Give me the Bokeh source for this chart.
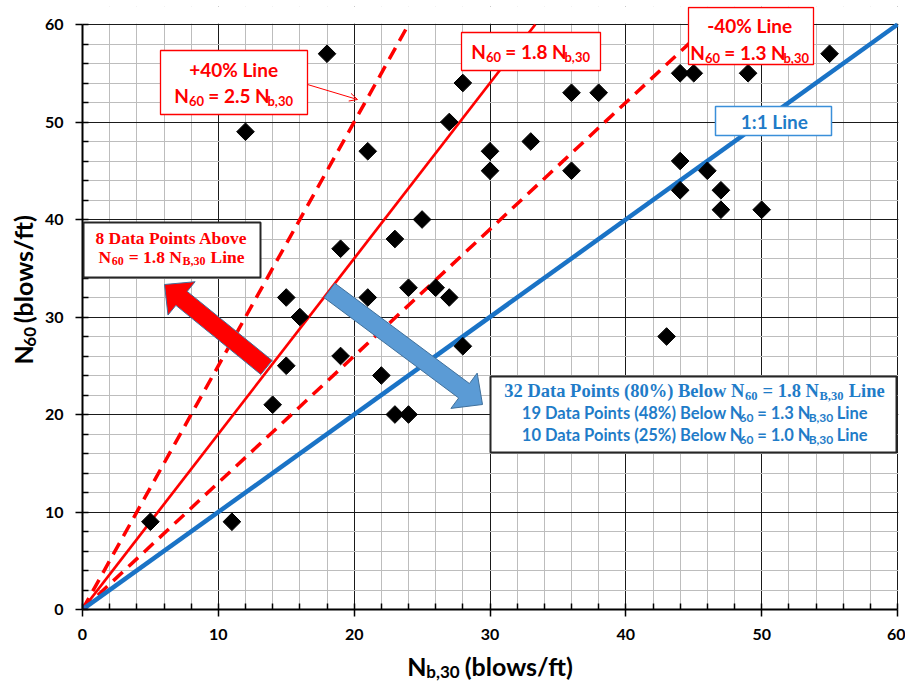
import math
from bokeh.plotting import figure
from bokeh.layouts import row, column
from bokeh.models import (Label, BoxAnnotation, Arrow, OpenHead,
                          SingleIntervalTicker, Range1d, ColumnDataSource)
from bokeh.embed import file_html
from bokeh.resources import INLINE

# ---------------- data ----------------
nb30 = [5, 11, 12, 14, 15, 15, 16, 18, 19, 19, 21, 21, 22, 23, 23, 24, 24, 25, 26, 27,
        27, 28, 28, 30, 30, 33, 36, 36, 38, 43, 44, 44, 44, 45, 46, 47, 47, 49, 50, 55]
n60 = [9, 9, 49, 21, 32, 25, 30, 57, 37, 26, 47, 32, 24, 38, 20, 20, 33, 40, 33, 32,
       50, 54, 27, 47, 45, 48, 53, 45, 53, 28, 55, 46, 43, 55, 45, 43, 41, 55, 41, 57]
ratio_one = 1.0
ratio_mid = 1.8
ratio_plus40 = 2.5
ratio_minus40 = 1.3
axis_max = 60

# ---------------- page geometry ----------------
PAGE_W, PAGE_H = 905, 683
LEFT_W = 40          # width of the y-title strip
MAIN_H = 648         # height of the main figure
FL, FR, FT, FB = 82, 897, 24, 609   # plot frame (page px) for 0..60
TOP_EXTRA = 18       # frame extends this many px above the 60 line


def dx(px):
    return (px - FL) * axis_max / (FR - FL)


def dy(py):
    return (FB - py) * axis_max / (FB - FT)


def ident(v):
    return v


LATO = {' ': .193, '(': .32, ')': .32, '%': .78, '+': .58, '=': .58, '-': .37, ',': .22,
        '.': .22, ':': .25, '/': .38, 'A': .686, 'B': .647, 'D': .74, 'L': .509, 'N': .739,
        'P': .612, 'a': .502, 'b': .564, 'e': .527, 'i': .245, 'l': .245, 'n': .562,
        'o': .565, 's': .431, 't': .378, 'w': .808, 'v': .529, 'f': .35}
TIMES = {' ': .25, '(': .333, ')': .333, '%': 1.0, ',': .25, '.': .25, '=': .57,
         'A': .722, 'B': .667, 'D': .722, 'L': .667, 'N': .722, 'P': .611, 'a': .5,
         'b': .556, 'e': .444, 'i': .278, 'l': .278, 'n': .556, 'o': .5, 's': .389,
         't': .333, 'w': .722, 'v': .5}
FONT_NAME = {"Lato": "Lato", "Times": "Liberation Serif"}
MID = {"Lato": 0.38, "Times": 0.34}   # baseline -> middle distance (em)


def tw(t, size, font):
    tab = LATO if font == "Lato" else TIMES
    tot = 0.0
    for ch in t:
        if ch.isdigit():
            tot += .58 if font == "Lato" else .5
        else:
            tot += tab.get(ch, .55)
    return tot * size


def rich(fig, pieces, ax, ay, font, color, mx=dx, my=dy, rotated=False, gap=0.6):
    """ax/ay: centre x and baseline y (page px); rotated: ax is baseline x, ay centre y."""
    widths = [tw(t, s, font) + gap for t, s, _ in pieces]
    total = sum(widths) - gap
    pos = -total / 2
    for (t, s, sh), w in zip(pieces, widths):
        lead = len(t) - len(t.lstrip(" "))
        off = pos + tw(" " * lead, s, font)
        mid = MID[font] * s
        if rotated:
            px, py, ang = ax + sh - mid, ay - off, math.pi / 2
        else:
            px, py, ang = ax + off, ay + sh - mid, 0.0
        fig.add_layout(Label(x=mx(px), y=my(py), text=t.strip(" "), text_font=FONT_NAME[font],
                             text_font_size=f"{s}px", text_font_style="bold",
                             text_color=color, text_align="left",
                             text_baseline="middle", angle=ang))
        pos += w


def box(fig, l, t, r, b, color, lw):
    fig.add_layout(BoxAnnotation(left=dx(l), right=dx(r), top=dy(t), bottom=dy(b),
                                 fill_color="white", fill_alpha=1.0,
                                 line_color=color, line_width=lw, line_alpha=1.0))


def block_arrow(tail, tip, sw, hw, hl):
    (x0, y0), (x1, y1) = tail, tip
    L = math.hypot(x1 - x0, y1 - y0)
    ux, uy = (x1 - x0) / L, (y1 - y0) / L
    nx, ny = -uy, ux
    bx, by = x1 - ux * hl, y1 - uy * hl
    pts = [(x0 + nx * sw / 2, y0 + ny * sw / 2), (bx + nx * sw / 2, by + ny * sw / 2),
           (bx + nx * hw / 2, by + ny * hw / 2), (x1, y1),
           (bx - nx * hw / 2, by - ny * hw / 2), (bx - nx * sw / 2, by - ny * sw / 2),
           (x0 - nx * sw / 2, y0 - ny * sw / 2)]
    return [dx(a) for a, _ in pts], [dy(b) for _, b in pts]


def blank_fig(w, h, xr, yr):
    f = figure(width=w, height=h, x_range=xr, y_range=yr, x_axis_type=None,
               y_axis_type=None, output_backend="svg", toolbar_location=None,
               min_border=0, outline_line_color=None)
    f.background_fill_color = "white"
    f.border_fill_color = "white"
    return f


# ---------------- main figure ----------------
ticker_x = SingleIntervalTicker(interval=10, num_minor_ticks=5)
ticker_y = SingleIntervalTicker(interval=10, num_minor_ticks=5)

x_end = axis_max + 1 * axis_max / (FR - FL)
y_end = axis_max + TOP_EXTRA * axis_max / (FB - FT)
main_w = PAGE_W - LEFT_W
p = figure(width=main_w, height=MAIN_H, x_range=Range1d(0, x_end), y_range=Range1d(0, y_end),
           output_backend="svg", toolbar_location=None,
           min_border_left=FL - LEFT_W, min_border_right=main_w - (FR + 1 - LEFT_W),
           min_border_top=FT - TOP_EXTRA, min_border_bottom=MAIN_H - FB)
p.background_fill_color = "white"
p.border_fill_color = "white"
p.outline_line_color = None

for ax_, tk in ((p.xaxis, ticker_x), (p.yaxis, ticker_y)):
    ax_.ticker = tk
    ax_.bounds = (0, axis_max)
    ax_.axis_line_color = "black"
    ax_.axis_line_width = 2
    ax_.major_tick_line_color = "black"
    ax_.major_tick_line_width = 1.5
    ax_.minor_tick_line_color = "black"
    ax_.minor_tick_line_width = 1.5
    ax_.major_tick_out = 7
    ax_.major_tick_in = 0
    ax_.minor_tick_in = 6
    ax_.minor_tick_out = 0
    ax_.major_label_text_font = "Lato"
    ax_.major_label_text_font_style = "bold"
    ax_.major_label_text_font_size = "16px"
    ax_.major_label_text_color = "black"
p.xaxis.major_label_standoff = 12
p.yaxis.major_label_standoff = 12

p.xgrid.ticker = ticker_x
p.ygrid.ticker = ticker_y
for g in (p.xgrid, p.ygrid):
    g.grid_line_color = "#1a1a1a"
    g.grid_line_width = 1
    g.minor_grid_line_color = "#bdbdbd"
    g.minor_grid_line_width = 1

# white strip above the 60 line (hides grid there)
p.add_layout(BoxAnnotation(bottom=axis_max + 0.07, fill_color="white", fill_alpha=1.0,
                           line_color=None, level="underlay"))

# reference lines
p.line([0, axis_max / ratio_plus40], [0, axis_max], line_color="#ff0000",
       line_width=3.5, line_dash="13 8")
p.line([0, axis_max / ratio_minus40], [0, axis_max], line_color="#ff0000",
       line_width=3.5, line_dash="13 8")
p.line([0, axis_max / ratio_mid], [0, axis_max], line_color="#ff0000", line_width=2.7)
p.line([0, axis_max / ratio_one], [0, axis_max], line_color="#1a73c6", line_width=4.5)
p.scatter([0], [0], marker="circle", size=8, color="#4472c4")

# block arrows
rx, ry = block_arrow((266, 367), (164, 284), 18, 43, 22)
p.patch(rx, ry, fill_color="#ff0000", line_color="#41719c", line_width=1)
bx_, by_ = block_arrow((329, 290), (482, 404), 18, 44, 23)
p.patch(bx_, by_, fill_color="#5b9bd5", line_color="#41719c", line_width=1)

# data points
src = ColumnDataSource(dict(x=nb30, y=n60))
p.scatter("x", "y", source=src, marker="square", size=12.5, angle=math.pi / 4,
          fill_color="black", line_color="black")

# thin arrow from +40% box
p.add_layout(Arrow(end=OpenHead(size=8, line_color="#ff0000", line_width=1),
                   x_start=dx(307), y_start=dy(84), x_end=dx(357), y_end=dy(99),
                   line_color="#ff0000", line_width=1))

RED = "#ff0000"
BLUE = "#1f7cc8"

# boxes
box(p, 160, 50, 307, 114, RED, 1.3)
box(p, 461, 32, 600, 70, RED, 1.3)
box(p, 688, 7, 813, 64, RED, 1.3)
box(p, 715, 106, 831, 135, "#3a8fd9", 1.5)
box(p, 83, 222, 260, 277, "#262626", 2)
box(p, 490, 376, 896, 452, "#262626", 2)

# box texts (centre x, baseline y)
rich(p, [("+40% Line", 19, 0)], 232, 76, "Lato", RED)
rich(p, [("N", 19, 0), ("60", 13, 3), (" = 2.5 N", 19, 0), ("b,30", 13, 3)], 233, 102, "Lato", RED)
rich(p, [("N", 19, 0), ("60", 13, 3), (" = 1.8 N", 19, 0), ("b,30", 13, 3)], 530, 58, "Lato", RED)
rich(p, [("-40% Line", 19, 0)], 748, 32, "Lato", RED)
rich(p, [("N", 19, 0), ("60", 13, 3), (" = 1.3 N", 19, 0), ("b,30", 13, 3)], 749, 59, "Lato", RED)
rich(p, [("1:1 Line", 19, 0)], 773, 128, "Lato", BLUE)

rich(p, [("8 Data Points Above", 17.5, 0)], 171, 243, "Times", RED)
rich(p, [("N", 17.5, 0), ("60", 12, 3), (" = 1.8 N", 17.5, 0), ("B,30", 12, 3),
         (" Line", 17.5, 0)], 171, 262, "Times", RED)

rich(p, [("32 Data Points (80%) Below N", 18.5, 0), ("60", 12.5, 3), (" = 1.8 N", 18.5, 0),
         ("B,30", 12.5, 3), (" Line", 18.5, 0)], 694, 397, "Times", BLUE)
rich(p, [("19 Data Points (48%) Below N", 16.5, 0), ("60", 12, 3), (" = 1.3 N", 16.5, 0),
         ("B,30", 12, 3), (" Line", 16.5, 0)], 694, 419, "Lato", BLUE)
rich(p, [("10 Data Points (25%) Below N", 16.5, 0), ("60", 12, 3), (" = 1.0 N", 16.5, 0),
         ("B,30", 12, 3), (" Line", 16.5, 0)], 694, 441, "Lato", BLUE)

# ---------------- y-title strip (left) ----------------
fl = blank_fig(LEFT_W, MAIN_H, Range1d(0, LEFT_W), Range1d(MAIN_H, 0))
rich(fl, [("N", 25, 0), ("60", 17, 4), (" (blows/ft)", 25, 0)], 32, 308, "Lato", "#000000",
     mx=ident, my=ident, rotated=True)

# ---------------- x-title strip (bottom) ----------------
fb = blank_fig(PAGE_W, PAGE_H - MAIN_H, Range1d(0, PAGE_W), Range1d(PAGE_H, MAIN_H))
rich(fb, [("N", 25, 0), ("b,30", 17, 2.5), (" (blows/ft)", 25, 0)], 490, 675, "Lato", "#000000",
     mx=ident, my=ident)

layout = column(row(fl, p, spacing=0), fb, spacing=0)
open("out.html", "w").write(file_html(layout, INLINE))
